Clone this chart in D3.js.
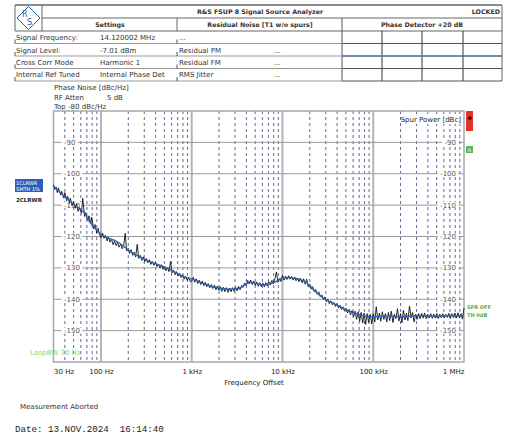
<!DOCTYPE html>
<html><head><meta charset="utf-8">
<script src="https://cdn.jsdelivr.net/npm/d3@7"></script>
<style>
body{margin:0;background:#fff}
svg{display:block;font-family:"DejaVu Sans",sans-serif}
</style>
</head><body>
<svg id="c" width="508" height="434"></svg>
<script>
// ---------- data ----------
const titleText = "R&S FSUP 8 Signal Source Analyzer";
const statusText = "LOCKED";
const headerLabels = ["Settings", "Residual Noise [T1 w/o spurs]", "Phase Detector +20 dB"];
const settingLabels = ["Signal Frequency:", "Signal Level:", "Cross Corr Mode", "Internal Ref Tuned"];
const settingValues = ["14.120002 MHz", "-7.01 dBm", "Harmonic 1", "Internal Phase Det"];
const residualLabels = ["...", "Residual PM", "Residual FM", "RMS Jitter"];
const residualValues = ["", "...", "...", "..."];
const infoLabels = ["Phase Noise [dBc/Hz]", "RF Atten", "Top -80 dBc/Hz"];
const infoValues = ["", "5 dB", ""];

const yTicks = [-90, -100, -110, -120, -130, -140, -150];
const xTickValues = [30, 100, 1e3, 1e4, 1e5, 1e6];
const xTickLabels = ["30 Hz", "100 Hz", "1 kHz", "10 kHz", "100 kHz", "1 MHz"];

// smoothed trace (blue) [Hz, dBc/Hz]
const smoothTrace = [
 [30,-104],[35,-105.8],[45,-108.5],[56,-110.9],[66,-112.5],[75,-115.3],[86,-117.3],[100,-119.3],
 [150,-121.6],[225,-125.3],[347,-128],[534,-130],[844,-133],[1000,-133.6],[1700,-136],[2600,-136.8],
 [3400,-136.4],[4400,-134.6],[6100,-135.4],[8700,-134.2],[10000,-133.3],[12000,-133.1],[15600,-133.7],
 [18700,-134.8],[21700,-136.8],[28000,-139.6],[40000,-141.9],[51000,-143.4],[72000,-145],[100000,-145.6],
 [150000,-145.3],[200000,-145.6],[300000,-145.2],[500000,-145.4],[700000,-145.2],[1000000,-145.3]
];

// raw trace (black) [Hz, dBc/Hz]
const rawTrace = [
 [30,-103.5],[31,-105.0],[32,-104.2],[33,-106.0],[34,-104.5],[36,-106.8],[37,-105.6],[39,-107.8],
 [40,-106.0],[42,-108.6],[43,-107.2],[45,-109.4],[46,-107.8],[48,-110.2],[50,-108.9],[52,-111.0],
 [54,-109.6],[56,-112.0],[58,-110.8],[61,-112.6],[63,-107.8],[66,-113.6],[68,-112.4],[71,-114.8],
 [74,-113.4],[77,-116.0],[79,-113.8],[83,-117.6],[86,-116.2],[90,-118.9],[93,-117.4],[97,-119.6],
 [100,-120.4],[104,-118.9],[108,-120.6],[112,-119.6],[117,-121.4],[121,-120.2],[126,-121.8],[131,-120.9],
 [136,-122.6],[141,-121.5],[147,-122.9],[152,-121.8],[158,-123.4],[165,-122.4],[171,-123.9],[178,-122.9],
 [185,-119.0],[192,-124.6],[200,-123.8],[207,-125.4],[215,-124.2],[224,-126.0],[232,-125.0],[241,-126.5],
 [251,-122.5],[261,-127.0],[271,-126.0],[282,-127.6],[293,-126.5],[304,-128.0],[316,-127.0],[328,-128.4],
 [341,-127.4],[355,-128.9],[368,-128.0],[383,-129.2],[398,-128.2],[414,-129.6],[430,-128.8],[447,-130.0],
 [464,-129.0],[482,-130.4],[501,-129.6],[521,-130.9],[541,-130.0],[562,-131.2],[584,-128.0],[607,-131.6],
 [631,-130.8],[656,-132.2],[681,-131.2],[708,-132.6],[736,-131.8],[765,-133.1],[794,-132.2],[825,-133.6],
 [858,-132.7],[891,-134.0],[926,-133.0],[962,-134.3],
 [1000,-134.3],[1040,-133.0],[1080,-134.6],[1120,-133.5],[1170,-135.0],[1210,-133.9],[1260,-135.3],[1310,-134.2],
 [1360,-135.7],[1410,-134.6],[1470,-136.0],[1520,-135.0],[1580,-136.4],[1650,-135.3],[1710,-136.6],[1780,-135.5],
 [1850,-137.0],[1920,-135.8],[2000,-137.2],[2070,-136.0],[2150,-137.5],[2240,-136.2],[2320,-137.6],[2410,-136.3],
 [2510,-137.8],[2610,-136.4],[2710,-137.6],[2820,-136.3],[2930,-137.5],[3040,-136.2],[3160,-137.3],[3280,-135.9],
 [3410,-137.0],[3550,-135.6],[3680,-136.2],[3830,-134.8],[3980,-135.6],[4140,-134.0],[4300,-135.1],[4470,-133.9],
 [4640,-135.3],[4820,-134.2],[5010,-135.6],[5210,-134.5],[5410,-135.9],[5620,-134.7],[5840,-136.0],[6070,-134.8],
 [6310,-136.1],[6560,-134.7],[6810,-135.8],[7080,-134.4],[7360,-135.5],[7650,-134.0],[7940,-135.1],[8250,-133.5],
 [8580,-131.3],[8910,-134.6],[9260,-133.4],[9620,-134.3],
 [10000,-132.4],[10400,-133.9],[10800,-132.6],[11200,-133.7],[11700,-132.5],[12100,-133.6],[12600,-132.7],[13100,-133.9],
 [13600,-132.9],[14100,-134.1],[14700,-133.2],[15200,-134.4],[15800,-133.3],[16500,-134.8],[17100,-133.5],[17800,-135.2],
 [18500,-133.6],[19200,-136.0],[20000,-135.2],[20700,-136.8],[21500,-136.0],[22400,-137.6],[23200,-136.9],[24100,-138.4],
 [25100,-137.6],[26100,-139.2],[27100,-138.6],[28200,-140.1],[29300,-139.3],[30400,-140.8],[31600,-140.0],[32800,-141.4],
 [34100,-140.5],[35500,-141.8],[36800,-141.0],[38300,-142.3],[39800,-141.4],[41400,-142.8],[43000,-141.9],[44700,-143.3],
 [46400,-142.4],[48200,-143.8],[50100,-142.9],[52100,-144.4],[54100,-143.2],[56200,-145.0],[58400,-143.6],[60700,-145.6],
 [63100,-143.8],[65600,-146.4],[68100,-144.0],[70800,-147.0],[73600,-144.2],[76500,-147.6],[79400,-144.4],[82500,-148.0],
 [85800,-144.6],[89100,-147.4],[92600,-144.8],[96200,-147.8],
 [100000,-144.6],[104000,-147.2],[108000,-142.4],[112000,-146.6],[117000,-144.4],[121000,-147.0],[126000,-144.0],[131000,-146.4],
 [136000,-144.6],[141000,-147.2],[147000,-144.2],[152000,-146.8],[158000,-143.8],[165000,-147.4],[171000,-144.8],[178000,-146.2],
 [185000,-143.0],[192000,-146.9],[200000,-144.6],[207000,-147.5],[215000,-143.5],[224000,-146.6],[232000,-144.4],[241000,-146.8],
 [251000,-142.2],[261000,-146.0],[271000,-144.2],[282000,-147.2],[293000,-144.8],[304000,-146.4],[316000,-144.6],[328000,-146.2],
 [341000,-144.5],[355000,-146.0],[368000,-144.4],[383000,-146.2],[398000,-144.8],[414000,-146.0],[430000,-144.6],[447000,-146.1],
 [464000,-144.7],[482000,-146.0],[501000,-144.5],[521000,-146.2],[541000,-144.8],[562000,-145.9],[584000,-144.6],[607000,-146.0],
 [631000,-144.8],[656000,-145.8],[681000,-144.5],[708000,-146.1],[736000,-144.6],[765000,-145.8],[794000,-144.4],[825000,-146.0],
 [858000,-144.3],[891000,-145.9],[926000,-144.6],[962000,-146.3],[1000000,-142.8]
];

// ---------- drawing ----------
const svg = d3.select("#c");
const L = 53.5, R = 464, T = 111, B = 362;
const x = d3.scaleLog().domain([30, 1e6]).range([L, R]);
const y = d3.scaleLinear().domain([-80, -160]).range([T, B]);

// header table
const hd = svg.append("g").attr("fill", "#333").style("font-size", "7px");
function line(g, x1, y1, x2, y2, col, w) {
  g.append("line").attr("x1", x1).attr("y1", y1).attr("x2", x2).attr("y2", y2)
   .attr("stroke", col).attr("stroke-width", w);
}
line(hd, 15, 5, 502, 5, "#666", 1.5);
line(hd, 15, 5, 15, 31, "#666", 1);
line(hd, 42, 5, 42, 31, "#666", 1);
line(hd, 42, 18, 502, 18, "#666", 1);
line(hd, 15, 31, 502, 31, "#666", 1.2);
line(hd, 177, 18, 177, 31, "#666", 1);
line(hd, 342, 18, 342, 81, "#555", 1);
line(hd, 502, 5, 502, 81, "#666", 1);
[382, 422, 463].forEach(v => line(hd, v, 31, v, 81, "#333", 1));
const rowLines = [43.5, 56, 68.5, 81];
rowLines.forEach(v => {
  line(hd, 15, v, 342, v, "#999", 1);
  line(hd, 342, v, 502, v, "#555", 1);
  line(hd, 15, v - 4, 15, v, "#555", 1);
  line(hd, 177, v - 4, 177, v, "#555", 1);
});
line(hd, 342, 56, 502, 56, "#3d6fc0", 1.2);

// logo
const lg = svg.append("g");
lg.append("path").attr("d", "M28.5,6.5 L40,18 L28.5,29.5 L17,18 Z").attr("fill", "none").attr("stroke", "#2b5ca8").attr("stroke-width", 1);
lg.append("text").attr("x", 22).attr("y", 17).attr("fill", "#2b5ca8").style("font-size", "8px").text("R");
lg.append("text").attr("x", 27).attr("y", 25).attr("fill", "#2b5ca8").style("font-size", "8px").text("S");

hd.append("text").attr("x", 260).attr("y", 14).attr("text-anchor", "middle").style("font-weight", "bold").style("font-size", "6.3px").text(titleText);
hd.append("text").attr("x", 500).attr("y", 14).attr("text-anchor", "end").style("font-weight", "bold").style("font-size", "6.3px").text(statusText);
const hx = [110, 260, 422];
headerLabels.forEach((t, i) => hd.append("text").attr("x", hx[i]).attr("y", 27).attr("text-anchor", "middle")
  .style("font-weight", "bold").style("font-size", "6.3px").text(t));
const rowBase = [40, 52.5, 65, 77];
settingLabels.forEach((t, i) => hd.append("text").attr("x", 16).attr("y", rowBase[i]).text(t));
settingValues.forEach((t, i) => hd.append("text").attr("x", 100).attr("y", rowBase[i]).text(t));
residualLabels.forEach((t, i) => hd.append("text").attr("x", 179).attr("y", rowBase[i]).text(t));
residualValues.forEach((t, i) => hd.append("text").attr("x", 274).attr("y", rowBase[i]).text(t));

// info above plot
const info = svg.append("g").attr("fill", "#333").style("font-size", "7px");
const infoY = [90, 100, 109];
infoLabels.forEach((t, i) => info.append("text").attr("x", 54).attr("y", infoY[i]).text(t));
infoValues.forEach((t, i) => info.append("text").attr("x", 107).attr("y", infoY[i]).text(t));

// grid
const grid = svg.append("g");
const minors = [];
for (let e = 1; e <= 5; e++) for (let m = 2; m <= 9; m++) {
  const f = m * Math.pow(10, e);
  if (f > 30 && f < 1e6) minors.push(f);
}
grid.selectAll(".minor").data(minors).join("line")
  .attr("x1", d => x(d)).attr("x2", d => x(d)).attr("y1", T).attr("y2", B)
  .attr("stroke", "#3c3c8c").attr("stroke-width", 0.8).attr("stroke-dasharray", "3,3");
grid.selectAll(".major").data([100, 1e3, 1e4, 1e5]).join("line")
  .attr("x1", d => x(d)).attr("x2", d => x(d)).attr("y1", T).attr("y2", B)
  .attr("stroke", "#b4b4b4").attr("stroke-width", 2);
grid.selectAll(".hl").data(yTicks).join("line")
  .attr("x1", L).attr("x2", R).attr("y1", d => y(d)).attr("y2", d => y(d))
  .attr("stroke", "#9a9a9a").attr("stroke-width", 1);
grid.append("rect").attr("x", L).attr("y", T).attr("width", R - L).attr("height", B - T)
  .attr("fill", "none").attr("stroke", "#a8a8a8").attr("stroke-width", 1.5);

// y labels (inside, both sides)
const yl = svg.append("g").style("font-size", "7px").attr("fill", "#555");
yTicks.forEach(v => {
  const tl = yl.append("text").attr("x", 64).attr("y", y(v) + 2.5).text(v);
  const w = tl.node().getComputedTextLength();
  yl.insert("rect", "text").attr("x", 61.5).attr("y", y(v) - 3).attr("width", w + 5).attr("height", 6).attr("fill", "#fff");
  const tr = yl.append("text").attr("x", 456).attr("y", y(v) + 2.5).attr("text-anchor", "end").text(v);
  const w2 = tr.node().getComputedTextLength();
  yl.insert("rect", "text").attr("x", 456 - w2 - 2.5).attr("y", y(v) - 3).attr("width", w2 + 5).attr("height", 6).attr("fill", "#fff");
});

// traces
const lineGen = d3.line().x(d => x(d[0])).y(d => y(d[1]));
svg.append("path").datum(rawTrace).attr("d", lineGen).attr("fill", "none").attr("stroke", "#111").attr("stroke-width", 0.9);
svg.append("path").datum(smoothTrace).attr("d", lineGen.curve(d3.curveMonotoneX)).attr("fill", "none")
  .attr("stroke", "#2f62b5").attr("stroke-width", 1.4);

// spur power label
const sp = svg.append("g");
sp.append("rect").attr("x", 401).attr("y", 115).attr("width", 61).attr("height", 9).attr("fill", "#fff");
sp.append("text").attr("x", 461).attr("y", 122).attr("text-anchor", "end").style("font-size", "7px").attr("fill", "#222").text("Spur Power [dBc]");

// right side markers
svg.append("rect").attr("x", 466).attr("y", 111).attr("width", 7).attr("height", 20).attr("fill", "#e8302a");
svg.append("text").attr("x", 469.5).attr("y", 123).attr("text-anchor", "middle").style("font-size", "9px").style("font-weight", "bold").text("*");
svg.append("rect").attr("x", 466).attr("y", 146).attr("width", 7).attr("height", 7).attr("fill", "#5cb85c");
svg.append("text").attr("x", 469.5).attr("y", 152).attr("text-anchor", "middle").style("font-size", "5px").attr("fill", "#fff").text("A");
svg.append("text").attr("x", 467).attr("y", 309).style("font-size", "5px").style("font-weight", "bold").attr("fill", "#4caf50").text("SPR OFF");
svg.append("text").attr("x", 467).attr("y", 317).style("font-size", "5px").style("font-weight", "bold").attr("fill", "#4caf50").text("TH 0dB");

// left side trace labels
svg.append("rect").attr("x", 15).attr("y", 179).attr("width", 28).attr("height", 13).attr("fill", "#2b5fb8");
svg.append("text").attr("x", 16).attr("y", 185).style("font-size", "5px").attr("fill", "#fff").text("1CLRWR");
svg.append("text").attr("x", 16).attr("y", 191).style("font-size", "5px").attr("fill", "#fff").text("SMTH 1%");
svg.append("text").attr("x", 16).attr("y", 202).style("font-size", "5.5px").style("font-weight", "bold").attr("fill", "#222").text("2CLRWR");
svg.append("text").attr("x", 30).attr("y", 355).style("font-size", "7px").attr("fill", "#8dd07a").text("LoopBW 30 Hz");

// x axis labels
const xa = d3.axisBottom(x).tickValues(xTickValues).tickFormat((d, i) => xTickLabels[i]).tickSize(0);
const xg = svg.append("g").attr("transform", `translate(0,${B + 4})`).call(xa);
xg.select(".domain").remove();
xg.selectAll("text").style("font-size", "7px").style("font-family", "DejaVu Sans").attr("fill", "#222")
  .attr("text-anchor", (d, i) => i === 0 ? "start" : (i === xTickValues.length - 1 ? "end" : "middle"));
svg.append("text").attr("x", 254).attr("y", 385).attr("text-anchor", "middle").style("font-size", "7px").attr("fill", "#222").text("Frequency Offset");

// footer
svg.append("text").attr("x", 20).attr("y", 409).style("font-size", "7px").attr("fill", "#333").text("Measurement Aborted");
svg.append("text").attr("x", 15).attr("y", 432).style("font-family", "'Liberation Mono',monospace").style("font-size", "9.2px")
  .attr("fill", "#222").attr("xml:space", "preserve").style("white-space", "pre").text("Date: 13.NOV.2024  16:14:40");
</script>
</body></html>
